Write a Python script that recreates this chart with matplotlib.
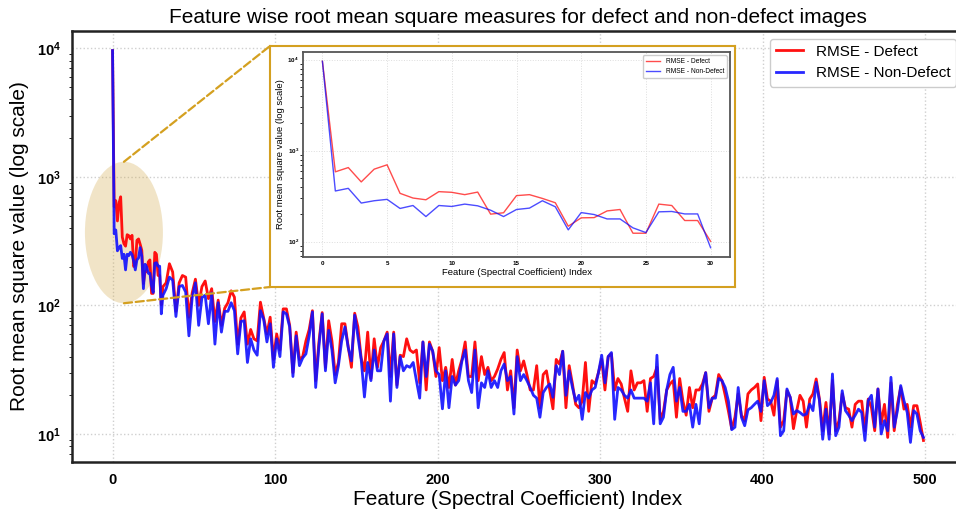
import numpy as np
import matplotlib
matplotlib.use("Agg")
import matplotlib.pyplot as plt
from matplotlib.patches import Ellipse, ConnectionPatch
from matplotlib.ticker import FuncFormatter

plt.rcParams['font.family'] = ['Liberation Sans', 'DejaVu Sans']
plt.rcParams['mathtext.fontset'] = 'custom'
plt.rcParams['mathtext.rm'] = 'Liberation Sans'
plt.rcParams['mathtext.bf'] = 'Liberation Sans:bold'

# ---- data ----
defect_head = [9600, 586, 653, 454, 627, 700, 340, 302, 289, 355, 349, 329, 351, 201, 208, 321,
               329, 299, 268, 148, 183, 184, 218, 226, 124, 124, 259, 250, 171, 171, 101]
nondefect_head = [9600, 361, 386, 266, 282, 292, 232, 250, 189, 250, 244, 259, 248, 222, 189, 226,
                  234, 282, 242, 135, 209, 199, 178, 178, 142, 126, 213, 215, 202, 202, 86]

defect_tail = [
    140, 150, 211, 182, 90, 150, 171, 166, 81, 125,
    160, 100, 140, 155, 113, 135, 75, 110, 70, 95,
    105, 130, 116, 50, 80, 89, 50, 65, 55, 53,
    106, 80, 60, 81, 38, 60, 45, 94, 94, 70,
    30, 62, 38, 40, 53, 65, 91, 26, 52, 88,
    33, 76, 53, 29, 36, 72, 72, 48, 33, 87,
    68, 39, 31, 62, 27, 55, 33, 47, 53, 62,
    28, 62, 24, 41, 40, 55, 45, 43, 45, 25,
    52, 22, 52, 44, 28, 47, 26, 33, 23, 38,
    24, 31, 38, 52, 28, 28, 52, 26, 40, 29,
    33, 26, 28, 32, 38, 43, 22, 31, 16, 45,
    31, 37, 29, 22, 22, 34, 16, 29, 31, 22,
    15.7, 38, 35, 44, 16, 34, 24.5, 17, 16, 18,
    36, 15, 26, 24.5, 30, 38, 22, 40, 42, 22,
    27, 24.5, 19, 15, 31, 22, 25, 25, 26, 15,
    27, 28, 33, 13, 15, 22, 24.5, 26, 13.5, 27,
    18, 14, 23, 16, 22, 22, 24.5, 30, 15, 19,
    20, 29, 26, 20, 15, 11, 13.5, 20.5, 14, 12.7,
    20.5, 22, 23, 24.5, 12.7, 27.6, 18.7, 18, 14, 26,
    11.3, 12.7, 21.7, 19.3, 11, 15.2, 20, 18, 11.3, 18.7,
    20.5, 26.8, 18.7, 10.6, 17.6, 10, 26, 10.6, 12.7, 20.5,
    16, 15.6, 11.3, 17, 18, 18, 10.6, 18.7, 16, 10.6,
    22.4, 12, 17, 9.4, 25, 10.6, 17, 23, 15.6, 17,
    11.3, 16.6, 16.6, 12.3, 8.9,
]
nondefect_tail = [
    120, 135, 166, 157, 82, 140, 143, 127, 58, 115,
    150, 70, 115, 120, 72, 125, 50, 105, 62, 90,
    90, 105, 91, 42, 75, 76, 36, 55, 45, 41,
    91, 78, 52, 72, 33, 55, 40, 89, 86, 68,
    28, 58, 34, 39, 42, 58, 89, 23, 48, 86,
    31, 64, 45, 25, 34, 53, 68, 47, 37, 84,
    57, 38, 19.4, 36, 26, 45, 31, 31, 53, 60,
    18, 60, 23, 40, 31, 34, 33, 36, 26, 19,
    52, 28, 50, 44, 31, 29, 15.7, 31, 16, 28,
    24, 26, 37, 45, 26, 21, 45, 16, 25, 23,
    31, 23, 26, 23, 31, 35, 26, 28, 14.3, 40,
    26, 29, 26, 23, 20, 19, 13.5, 21, 23, 24.5,
    19.3, 34, 29, 44, 20, 31, 23, 18, 20, 13,
    21, 19, 22, 23, 30, 41, 25, 40, 43, 13,
    23, 22, 20, 19, 22, 19, 19, 19, 19, 18,
    25, 12, 41, 12, 13.5, 22, 29, 33, 18, 23,
    15, 15, 17, 11.3, 17, 12, 23, 30, 16, 19,
    19, 27, 26, 23, 18, 10.8, 11.3, 23, 13.5, 11.6,
    15.4, 16, 17, 18, 15, 26, 16.6, 17.6, 20, 27,
    9.7, 10.6, 22.4, 19.3, 14.3, 15.2, 14.7, 14, 14.3, 17.1,
    15.2, 25.2, 18.2, 9.1, 15.6, 9.1, 29.3, 9.7, 11.3, 21.7,
    15.2, 14, 12.7, 14, 15.6, 14.7, 8.9, 18.2, 20, 11.3,
    22.4, 10, 12.7, 10.6, 27.6, 11.3, 15.2, 23.8, 18.2, 14.7,
    8.6, 15.2, 14.3, 10.6, 9.4,
]

feature_idx = np.concatenate([np.arange(len(defect_head)), np.arange(31, 500, 2)])
rmse_defect = np.array(defect_head + defect_tail)
rmse_nondefect = np.array(nondefect_head + nondefect_tail)

N_ZOOM = 31                       # features shown in the inset
ZOOM_BOX_X = (-17, 31)            # highlighted region (feature index)
ZOOM_BOX_Y = (104, 1310)          # highlighted region (rmse value)

RED = '#ff1010'
BLUE = '#1010ff'
GOLD = '#d4a020'

# bold 10^n labels for the log axes
bold_pow = FuncFormatter(lambda v, pos: r'$\mathbf{10^{%d}}$' % round(np.log10(v)))

W, H = 956, 514
fig = plt.figure(figsize=(W / 100, H / 100), dpi=100)

# ---- main axes ----
ax = fig.add_axes([72 / W, 52 / H, 892 / W, 431 / H])
ax.plot(feature_idx, rmse_defect, color=RED, lw=2, label='RMSE - Defect', zorder=3)
ax.plot(feature_idx, rmse_nondefect, color=BLUE, lw=2, alpha=0.9, label='RMSE - Non-Defect', zorder=4)
ax.set_yscale('log')
ax.yaxis.set_major_formatter(bold_pow)
ax.grid(True, ls=':', color='#cfcfcf', lw=1)
ax.tick_params(length=0, labelsize=10.5, pad=8)
for lbl in ax.get_xticklabels():
    lbl.set_fontweight('bold')
for sp in ax.spines.values():
    sp.set_color('#222222')
    sp.set_linewidth(1.8)
ax.set_title('Feature wise root mean square measures for defect and non-defect images',
             fontsize=15, pad=6)
ax.set_xlabel('Feature (Spectral Coefficient) Index', fontsize=15, labelpad=2)
ax.set_ylabel('Root mean square value (log scale)', fontsize=15, labelpad=6)
ax.legend(loc='upper right', fontsize=11, handlelength=1.8, edgecolor='#cccccc',
          framealpha=1, fancybox=True)

# highlighted region drawn in axes fraction so it stays an ellipse on the log scale
to_axes = lambda x, y: ax.transAxes.inverted().transform(ax.transData.transform((x, y)))
(ex0, ey0) = to_axes(ZOOM_BOX_X[0], ZOOM_BOX_Y[0])
(ex1, ey1) = to_axes(ZOOM_BOX_X[1], ZOOM_BOX_Y[1])
ecx, ecy = (ex0 + ex1) / 2, (ey0 + ey1) / 2
ax.add_patch(Ellipse((ecx, ecy), ex1 - ex0, ey1 - ey0, transform=ax.transAxes,
                     facecolor='#d2a848', alpha=0.3, edgecolor='none', zorder=2))

# ---- inset (framed) ----
frame = fig.add_axes([270 / W, 1 - 287 / H, 465 / W, 241 / H])
frame.set_xticks([])
frame.set_yticks([])
frame.set_facecolor('white')
for sp in frame.spines.values():
    sp.set_color(GOLD)
    sp.set_linewidth(1.5)

inner = fig.add_axes([303 / W, 1 - 257 / H, 427 / W, 205 / H])
inner.plot(feature_idx[:N_ZOOM], rmse_defect[:N_ZOOM], color=RED, lw=1, alpha=0.75, label='RMSE - Defect')
inner.plot(feature_idx[:N_ZOOM], rmse_nondefect[:N_ZOOM], color=BLUE, lw=1, alpha=0.75, label='RMSE - Non-Defect')
inner.set_yscale('log')
inner.yaxis.set_major_formatter(bold_pow)
inner.set_xticks(np.arange(0, N_ZOOM, 5))
inner.grid(True, ls=':', color='#dddddd', lw=0.7)
inner.tick_params(length=0, labelsize=4.5, pad=3)
for lbl in inner.get_xticklabels():
    lbl.set_fontweight('bold')
for sp in inner.spines.values():
    sp.set_color('#555555')
    sp.set_linewidth(1.3)
inner.set_xlabel('Feature (Spectral Coefficient) Index', fontsize=6.8, labelpad=1)
inner.set_ylabel('Root mean square value (log scale)', fontsize=6.8, labelpad=2)
inner.legend(loc='upper right', fontsize=4.8, handlelength=2.2, edgecolor='#cccccc', framealpha=1)

# dashed connectors from the ellipse to the inset corners
for ey, fy in [(ey1, 1), (ey0, 0)]:
    con = ConnectionPatch(xyA=(ecx, ey), coordsA=ax.transAxes,
                          xyB=(0, fy), coordsB=frame.transAxes,
                          ls='--', color=GOLD, lw=1.6, zorder=5)
    fig.add_artist(con)

fig.savefig('out.png', dpi=100)
